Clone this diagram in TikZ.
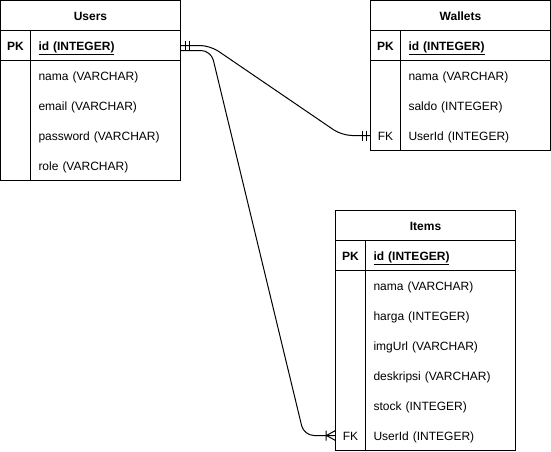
\documentclass[tikz,border=0pt]{standalone}
\usepackage{fontspec}
\setmainfont{Liberation Sans}
\usetikzlibrary{positioning,calc}
\tikzset{
    tblhead/.style = {rectangle,
                    draw=black,
                    text=black,
                    line width=1pt,
                    outer sep=0pt,
                    inner sep=0pt,
                    minimum width=180pt,
                    minimum height=30pt,
                    text height=11pt,
                    text depth=1pt,
                    font=\fontsize{12pt}{14pt}\selectfont\bfseries},
    keycell/.style = {rectangle,
                    text=black,
                    line width=1pt,
                    outer sep=0pt,
                    inner sep=0pt,
                    minimum width=30pt,
                    minimum height=30pt,
                    text height=11pt,
                    text depth=1pt,
                    font=\fontsize{12pt}{14pt}\selectfont},
    fieldcell/.style = {rectangle,
                    text=black,
                    line width=1pt,
                    outer sep=0pt,
                    inner xsep=8pt,
                    inner ysep=0pt,
                    text width=134pt,
                    align=left,
                    minimum height=30pt,
                    text height=11pt,
                    text depth=1pt,
                    font=\fontsize{12pt}{14pt}\selectfont},
    pkrow/.style =  {draw=black,
                    font=\fontsize{12pt}{14pt}\selectfont\bfseries},
    tblline/.style = {draw=black,
                    line width=1pt},
    rel/.style =    {draw=black,
                    line width=1pt,
                    rounded corners=10pt},
    mandone/.pic =  {\draw[line width=1pt] (-4.5,-5) -- (-4.5,5)
                                           (-8.5,-5) -- (-8.5,5);},
    onemany/.pic =  {\draw[line width=1pt] (-9.5,-5) -- (-9.5,5)
                                           (0,-5) -- (-9,0) -- (0,5);}
}
\begin{document}
\begin{tikzpicture}[x=1pt,y=-1pt]
    \useasboundingbox (0,0) rectangle (551,451);

    \node[tblhead]          (utitle) at (90.5,15.5)                     {Users};
    \node[keycell,pkrow]    (ukpk)   [below right=0pt of utitle.south west] {PK};
    \node[fieldcell,pkrow]  (ufpk)   [right=0pt of ukpk]                {\underline{id (INTEGER)}};
    \node[fieldcell]        (ufnama) [below=0pt of ufpk]                {nama (VARCHAR)};
    \node[fieldcell]        (ufmail) [below=0pt of ufnama]              {email (VARCHAR)};
    \node[fieldcell]        (ufpass) [below=0pt of ufmail]              {password (VARCHAR)};
    \node[fieldcell]        (ufrole) [below=0pt of ufpass]              {role (VARCHAR)};
    \draw[tblline] (ukpk.south west) rectangle (ufrole.south east);
    \draw[tblline] (ufpk.south west) -- (ufrole.south west);

    \node[tblhead]          (wtitle) at (460.5,15.5)                    {Wallets};
    \node[keycell,pkrow]    (wkpk)   [below right=0pt of wtitle.south west] {PK};
    \node[fieldcell,pkrow]  (wfpk)   [right=0pt of wkpk]                {\underline{id (INTEGER)}};
    \node[fieldcell]        (wfnama) [below=0pt of wfpk]                {nama (VARCHAR)};
    \node[fieldcell]        (wfsald) [below=0pt of wfnama]              {saldo (INTEGER)};
    \node[fieldcell]        (wfuid)  [below=0pt of wfsald]              {UserId (INTEGER)};
    \node[keycell]          (wkfk)   [left=0pt of wfuid]                {FK};
    \draw[tblline] (wkpk.south west) rectangle (wfuid.south east);
    \draw[tblline] (wfpk.south west) -- (wfuid.south west);

    \node[tblhead]          (ititle) at (425.5,225.5)                   {Items};
    \node[keycell,pkrow]    (ikpk)   [below right=0pt of ititle.south west] {PK};
    \node[fieldcell,pkrow]  (ifpk)   [right=0pt of ikpk]                {\underline{id (INTEGER)}};
    \node[fieldcell]        (ifnama) [below=0pt of ifpk]                {nama (VARCHAR)};
    \node[fieldcell]        (ifharg) [below=0pt of ifnama]              {harga (INTEGER)};
    \node[fieldcell]        (ifimg)  [below=0pt of ifharg]              {imgUrl (VARCHAR)};
    \node[fieldcell]        (ifdesk) [below=0pt of ifimg]               {deskripsi (VARCHAR)};
    \node[fieldcell]        (ifstok) [below=0pt of ifdesk]              {stock (INTEGER)};
    \node[fieldcell]        (ifuid)  [below=0pt of ifstok]              {UserId (INTEGER)};
    \node[keycell]          (ikfk)   [left=0pt of ifuid]                {FK};
    \draw[tblline] (ikpk.south west) rectangle (ifuid.south east);
    \draw[tblline] (ifpk.south west) -- (ifuid.south west);

    \draw[rel] (ufpk.east) -- ++(29.5,0) -- ($(wkfk.west)+(-28.5,0)$) -- (wkfk.west);
    \draw[rel] ([yshift=-5pt]ufpk.east) -- ++(30.5,0) -- ($(ikfk.west)+(-31.5,0)$) -- (ikfk.west);
    \pic[xscale=-1] at (ufpk.east) {mandone};
    \pic at (wkfk.west) {mandone};
    \pic at (ikfk.west) {onemany};
\end{tikzpicture}
\end{document}
